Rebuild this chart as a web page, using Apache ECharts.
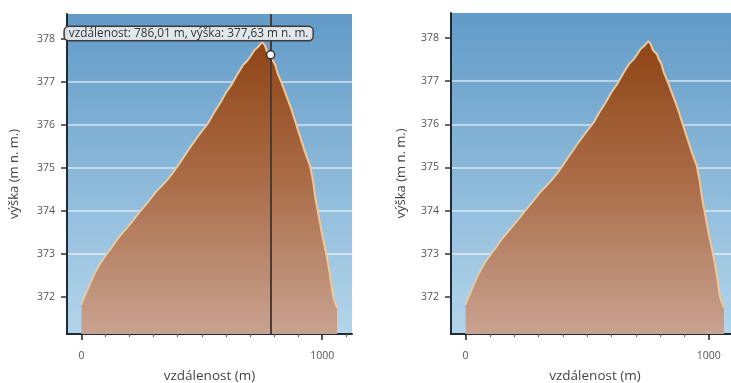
<!DOCTYPE html>
<html>
<head>
<meta charset="utf-8">
<script src="https://cdn.jsdelivr.net/npm/echarts@6/dist/echarts.min.js"></script>
<style>
html,body{margin:0;padding:0;background:#fff}
#main{width:731px;height:383px}
</style>
</head>
<body>
<div id="main"></div>
<script>
// profil trasy - vzdalenost (m) a vyska (m n. m.)
var vzdalenost = [0, 8, 20, 35, 55, 80, 105, 125, 150, 180, 210, 245, 275, 310, 345, 375, 400, 430, 460, 490,
	527, 550, 575, 600, 625, 650, 672, 690, 705, 720, 735, 751, 762, 770, 778, 786.01, 795, 805, 815, 830,
	850, 870, 890, 910, 930, 950, 962, 972, 985, 1000, 1017, 1030, 1046, 1055, 1062];
var vyska = [371.82, 371.95, 372.1, 372.3, 372.55, 372.8, 373.0, 373.15, 373.35, 373.55, 373.75, 374.0, 374.2, 374.45, 374.65, 374.85, 375.05, 375.3, 375.55, 375.78,
	376.05, 376.28, 376.5, 376.75, 376.95, 377.2, 377.4, 377.5, 377.62, 377.75, 377.82, 377.93, 377.85, 377.72, 377.75, 377.63, 377.5, 377.4, 377.2, 377.0,
	376.7, 376.4, 376.05, 375.7, 375.35, 375.05, 374.7, 374.3, 373.9, 373.45, 373.0, 372.6, 372.0, 371.85, 371.75];
var yTicks = [372, 373, 374, 375, 376, 377, 378];
var xLabels = [0, 1000];
var xMinorTicks = [0, 100, 200, 300, 400, 500, 600, 700, 800, 900, 1000, 1100];
var kurzor = [786.01, 377.63];

var profil = vzdalenost.map(function(d, i){ return [d, vyska[i]]; });

var font = 'Open Sans';
var axisColor = '#1f2b36';

var bgGrad = { type:'linear', x:0, y:0, x2:0, y2:1, colorStops:[
	{offset:0, color:'#629bc8'}, {offset:1, color:'#b3d5ea'} ] };
var areaGrad = { type:'linear', x:0, y:0, x2:0, y2:1, colorStops:[
	{offset:0, color:'#8f4415'}, {offset:0.45, color:'#a96a44'}, {offset:1, color:'#c8a290'} ] };

function cz(v){ return v.toFixed(2).replace('.', ','); }

function mkGrid(left, top, width, height){
	return { left:left, top:top, width:width, height:height, show:true, outerBoundsMode:'none',
		backgroundColor:bgGrad, borderWidth:0 };
}

function mkX(grid, minor){
	if(minor){
		return { type:'value', gridIndex:grid, min:-60, max:1124, position:'bottom',
			axisLine:{show:false, onZero:false}, splitLine:{show:false},
			axisLabel:{show:false},
			axisTick:{show:true, customValues:xLabels, length:6, lineStyle:{color:axisColor, width:1.5}} };
	}
	return { type:'value', gridIndex:grid, min:-60, max:1124, position:'bottom',
		name:'vzdálenost (m)', nameLocation:'middle', nameGap:35,
		nameTextStyle:{color:'#444', fontSize:13.5, fontFamily:font},
		axisLine:{show:true, onZero:false, lineStyle:{color:axisColor, width:2}},
		axisTick:{show:true, customValues:xMinorTicks, length:3, lineStyle:{color:'#555', width:1}},
		axisLabel:{customValues:xLabels, formatter:function(v){ return String(v); },
			color:'#555', fontSize:10.5, fontFamily:font, margin:17},
		splitLine:{show:false} };
}

function mkY(grid, gap){
	return { type:'value', gridIndex:grid, min:371.14, max:378.58, splitNumber:7, z:3,
		name:'výška (m n. m.)', nameLocation:'middle', nameGap:gap,
		nameTextStyle:{color:'#444', fontSize:13, fontFamily:font},
		axisLine:{show:true, onZero:false, lineStyle:{color:axisColor, width:2}},
		axisTick:{show:true, customValues:yTicks, length:6, lineStyle:{color:'#333', width:1.5}},
		axisLabel:{customValues:yTicks, color:'#555', fontSize:10.5, fontFamily:font, margin:12},
		splitLine:{show:true, showMinLine:false, showMaxLine:false, lineStyle:{color:'rgba(255,255,255,0.5)', width:2}} };
}

function mkSeries(xi, yi, withCursor){
	var s = { type:'line', xAxisIndex:xi, yAxisIndex:yi, data:profil, showSymbol:false, silent:true,
		lineStyle:{color:'#e9c9a0', width:2}, areaStyle:{color:areaGrad, origin:'start', opacity:1} };
	if(withCursor){
		s.markLine = { silent:true, symbol:'none', label:{show:false}, animation:false,
			lineStyle:{color:'#4a3c34', type:'solid', width:2},
			data:[{xAxis:kurzor[0]}] };
		s.markPoint = { silent:true, symbol:'circle', symbolSize:8, animation:false,
			itemStyle:{color:'#fff', borderColor:'#333', borderWidth:1.5},
			label:{show:true, position:'top', offset:[-82, -5],
				formatter:'vzdálenost: ' + cz(kurzor[0]) + ' m, výška: ' + cz(kurzor[1]) + ' m n. m.',
				color:'#333', fontSize:11.8, fontFamily:font,
				backgroundColor:'rgba(238,240,242,0.9)', borderColor:'#3b3b3b', borderWidth:1.5, borderRadius:4, padding:[1,4,0,4]},
			data:[{coord:kurzor}] };
	}
	return s;
}

var chart = echarts.init(document.getElementById('main'));
chart.setOption({
	animation:false,
	grid:[ mkGrid(67, 14, 285, 320), mkGrid(451, 13, 288, 321) ],
	xAxis:[ mkX(0, false), mkX(0, true), mkX(1, false), mkX(1, true) ],
	yAxis:[ mkY(0, 46), mkY(1, 43) ],
	series:[ mkSeries(0, 0, true), mkSeries(2, 1, false) ]
});
</script>
</body>
</html>
